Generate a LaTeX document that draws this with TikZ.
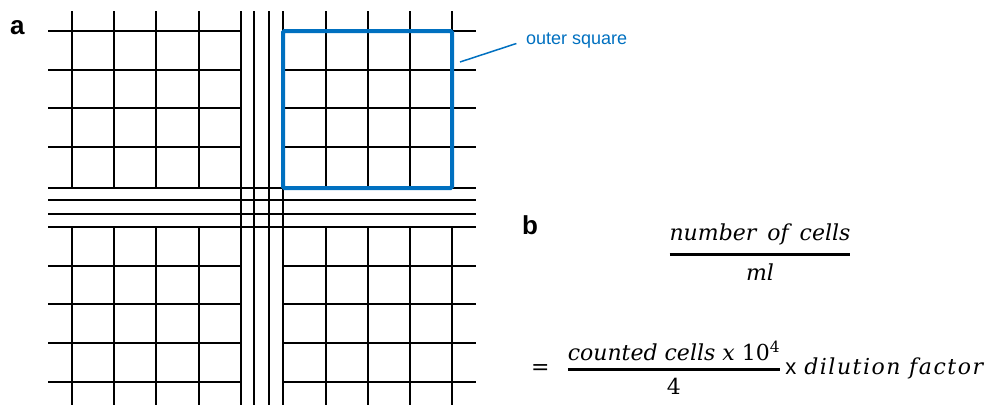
\documentclass[tikz,border=0pt]{standalone}
\usepackage{amsmath}
\usepackage{fontspec}
\setsansfont{Liberation Sans}
\newfontfamily\eqfont[WordSpace=1.6]{DejaVu Serif}
\newfontfamily\eqtight{DejaVu Serif}
\newfontfamily\eqwide[LetterSpace=7]{DejaVu Serif}
\definecolor{squareblue}{RGB}{0,112,192}
% fraction with a heavier bar
\newcommand{\cellfrac}[2]{\genfrac{}{}{2.6pt}{0}{#1}{#2}}
\tikzset{
  gridline/.style={line width=1.8pt, black},
  outersq/.style={line width=4pt, squareblue, rounded corners=1.5pt},
  leader/.style={line width=1.5pt, squareblue},
  panel/.style={font=\fontsize{26}{28}\selectfont\sffamily\bfseries, inner sep=0pt},
  tag/.style={font=\fontsize{18}{20}\selectfont\sffamily, text=squareblue, inner sep=2pt},
  formula/.style={font=\fontsize{22}{26}\selectfont\eqfont, inner sep=0pt},
}
\begin{document}
\begin{tikzpicture}[x=1pt, y=-1pt]
  \useasboundingbox (0,0) rectangle (993,405);
  % --- (a) counting chamber grid ---
  % triple lines between the four outer squares
  \foreach \y in {188,200,214,227}
    \draw[gridline] (48,\y) -- (476,\y);
  \foreach \x in {241,254,269,283}
    \draw[gridline] (\x,11) -- (\x,405);
  % small squares: horizontal lines
  \foreach \y in {31,70,108,147}{
    \draw[gridline] (48,\y) -- (241,\y);
    \draw[gridline] (283,\y) -- (476,\y);
  }
  \foreach \y in {266,304,343,382}{
    \draw[gridline] (48,\y) -- (241,\y);
    \draw[gridline] (283,\y) -- (476,\y);
  }
  % small squares: vertical lines
  \foreach \x in {72,114,156,199,326,368,410,452}{
    \draw[gridline] (\x,11) -- (\x,188);
    \draw[gridline] (\x,227) -- (\x,405);
  }
  % one outer square marked in blue
  \draw[outersq] (283,31) rectangle (452,188);
  \coordinate (sqedge) at (460,62);
  \node[tag, anchor=west] (outer) at (524,41) {outer square};
  \draw[leader, shorten >=8pt] (sqedge) -- (outer.west);
  \node[panel, anchor=base west] (labela) at (10,34) {a};

  % --- (b) formula ---
  \node[panel, anchor=base west] (labelb) at (522,234) {b};
  \node[formula] (ratio) at (760,252)
    {$\cellfrac{\text{\itshape number\hspace{4pt} of\hspace{4pt} cells}}{\text{\itshape ml}}$};
  \node[formula, anchor=west] (count) at (531,368)
    {=\hspace{17pt}$\cellfrac{\text{\eqtight{\itshape counted cells x }10\textsuperscript{4}}}{\text{4}}$\hspace{4pt}{\sffamily x}\hspace{8pt}{\eqwide\itshape dilution factor}};
\end{tikzpicture}
\end{document}
